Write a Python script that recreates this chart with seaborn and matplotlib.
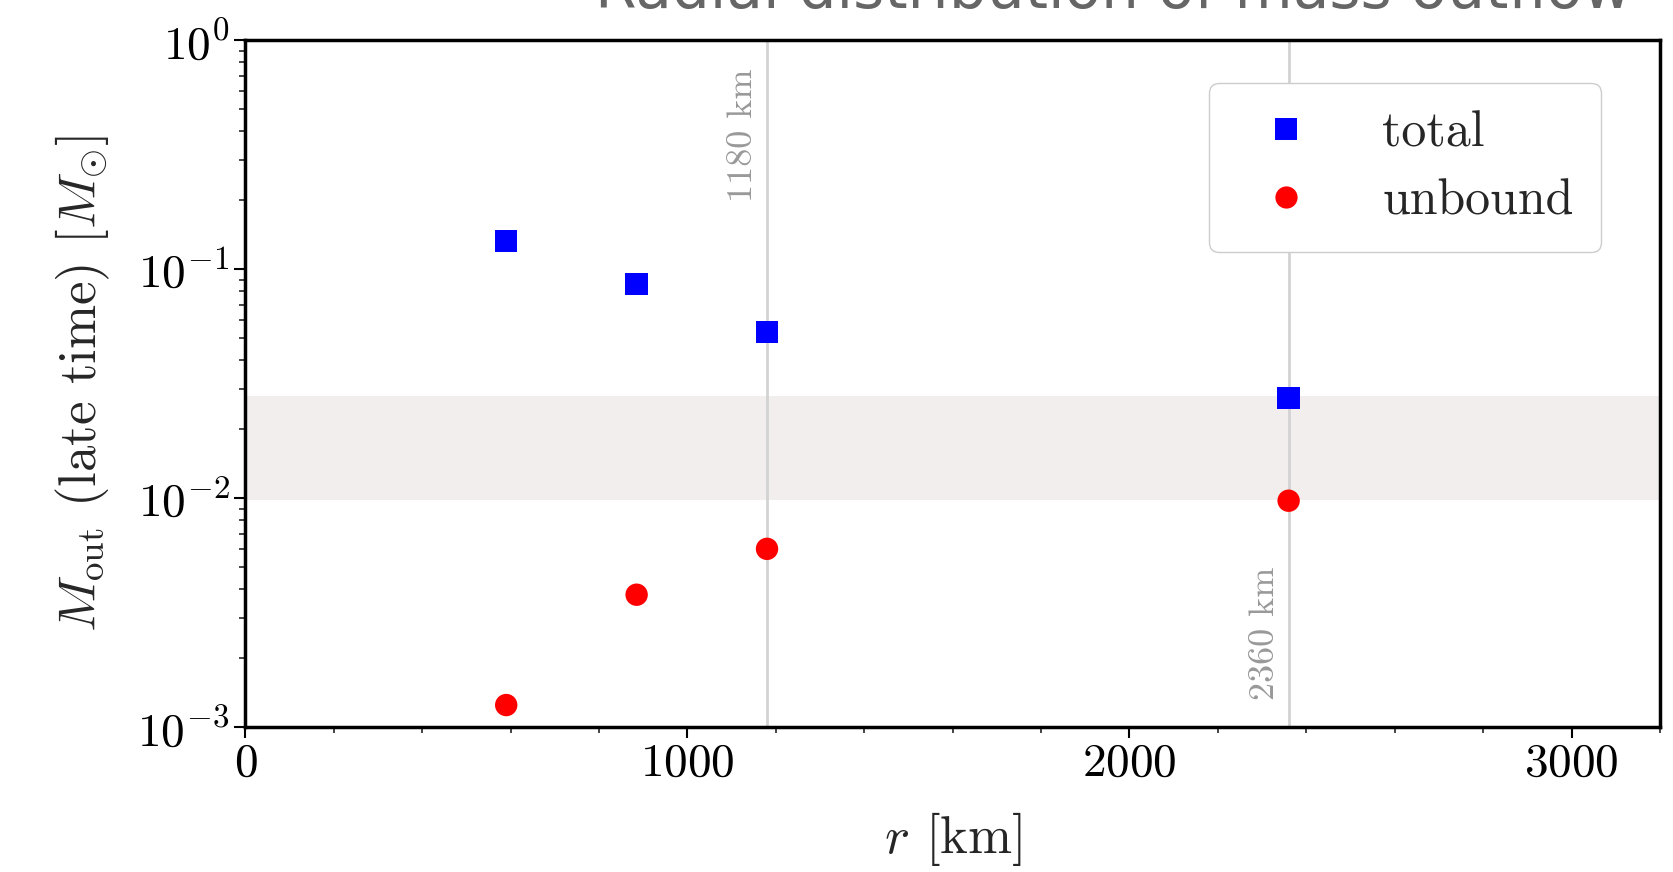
import numpy as np
import pandas as pd
import matplotlib
matplotlib.use("Agg")
import matplotlib.pyplot as plt
from matplotlib.ticker import MultipleLocator, LogLocator
import seaborn as sns

# ---- data ----
radius_km = [590, 885, 1180, 2360]
m_total = [0.133, 0.0863, 0.0532, 0.0273]
m_unbound = [0.00125, 0.00379, 0.00601, 0.00975]
band_range = [0.0098, 0.0279]
vlines_km = [1180, 2360]
vline_labels = ["1180 km", "2360 km"]
series_names = ["total", "unbound"]
x_ticks = [0, 1000, 2000, 3000]

sns.set_style("ticks")
plt.rcParams.update({
    "font.family": "serif",
    "font.serif": ["cmr10", "DejaVu Serif"],
    "mathtext.fontset": "cm",
    "axes.formatter.use_mathtext": True,
    "axes.unicode_minus": False,
})

df = pd.DataFrame({
    "r": radius_km * 2,
    "M": m_total + m_unbound,
    "kind": [series_names[0]] * len(radius_km) + [series_names[1]] * len(radius_km),
})

fig = plt.figure(figsize=(16.74, 8.72), dpi=100)
ax = fig.add_axes([0.1466, 0.166, 0.8450, 0.788])

ax.axhspan(band_range[0], band_range[1], color="#f2eeee", zorder=0, lw=0)
for xv in vlines_km:
    ax.axvline(xv, color="#d3d3d3", lw=2, zorder=1)

sns.scatterplot(data=df, x="r", y="M", hue="kind", style="kind",
                palette={"total": "#0000ff", "unbound": "#ff0000"},
                markers={"total": "s", "unbound": "o"},
                s=260, edgecolor="none", ax=ax, zorder=3)

ax.set_yscale("log")
ax.set_ylim(1e-3, 1)
ax.set_xlim(0, 3200)
ax.set_xticks(x_ticks)
ax.xaxis.set_minor_locator(MultipleLocator(200))
ax.yaxis.set_minor_locator(LogLocator(base=10, subs=np.arange(2, 10)))

ax.tick_params(which="major", direction="out", length=8, width=1.5, labelsize=34, colors="black")
ax.tick_params(which="minor", direction="out", length=4, width=1.2)
for sp in ax.spines.values():
    sp.set_linewidth(2.5)
    sp.set_color("black")
    sp.set_visible(True)

ax.set_xlabel(r"$r$ [km]", fontsize=38, labelpad=18)
ax.set_ylabel(r"$M_{\rm out}$ (late time) $[M_{\odot}]$", fontsize=38, labelpad=18)

# vertical line annotations
ax.text(vlines_km[0] - 18, 0.75, vline_labels[0], rotation=90, ha="right", va="top",
        color="#999999", fontsize=26)
ax.text(vlines_km[1] - 18, 0.00132, vline_labels[1], rotation=90, ha="right", va="bottom",
        color="#999999", fontsize=26)

handles, labels = ax.get_legend_handles_labels()
leg = ax.legend(handles, labels, loc="upper right", fontsize=36, frameon=True,
                fancybox=True, edgecolor="#cccccc", framealpha=1,
                bbox_to_anchor=(0.976, 0.974), handletextpad=0.92, borderpad=0.55,
                markerscale=1.0, labelspacing=0.45)
for h in leg.legend_handles:
    try:
        h.set_markersize(16)
    except AttributeError:
        h.set_sizes([260])

fig.text(0.665, 1 - 8 / 872, "Radial distribution of mass outflow", ha="center",
         va="baseline", fontsize=43, color="#666666", family="DejaVu Sans")

fig.savefig("out.png", dpi=100)
